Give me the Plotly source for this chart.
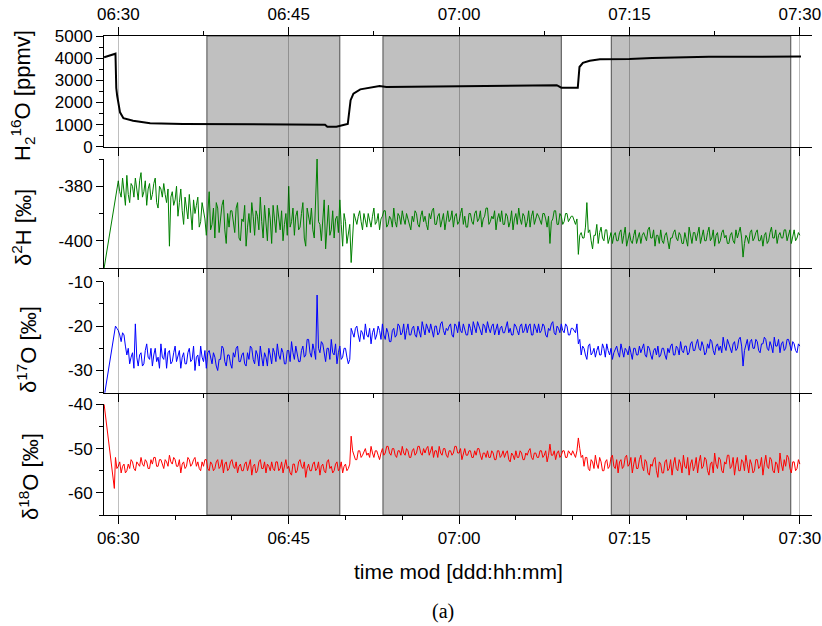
import pandas as pd
import plotly.graph_objects as go

# ---------------- data (minutes after 06:00) ----------------
h2o_min = [28.75, 29.5, 29.75, 29.82, 29.9, 30.15, 30.45, 31.3, 32.8, 35.7, 41.6, 48.2,
           48.4, 49.2, 49.9, 50.2, 50.45, 50.7, 51.3, 52.2, 53.0, 53.6, 58.0, 63.0,
           68.4, 68.6, 69.0, 70.0, 70.45, 70.6, 70.9, 71.5, 72.4, 75.0, 77.0, 82.0, 90.1]
h2o_ppmv = [4040, 4150, 4200, 2650, 2300, 1550, 1290, 1170, 1060, 1025, 1000, 995,
            905, 905, 990, 1025, 2100, 2400, 2590, 2680, 2740, 2700, 2720, 2730,
            2760, 2780, 2665, 2640, 2660, 3600, 3790, 3885, 3950, 3960, 4010, 4065, 4070]

# regular sampling of the isotope records, 06:29:45 ... 07:30:00 (7.5 s steps)
grid_start_min = 29.75
grid_step_min = 0.125

d2h_head_min = [28.75]
d2h_head = [-410]
d2h = [
    -383, -380,
    -378, -382, -384, -377, -381, -387, -376, -383,  # 06:30
    -386, -379, -380, -384, -377, -381, -385, -378,
    -375, -384, -382, -378, -387, -381, -379, -385,
    -383, -379, -377, -386, -388, -380, -381, -384,
    -379, -383, -386, -381, -402, -384, -382, -387,
    -385, -380, -391, -386, -381, -389, -394, -384,  # 06:35
    -388, -392, -383, -389, -396, -385, -390, -387,
    -384, -395, -393, -386, -389, -392, -398, -390,
    -382, -396, -394, -388, -399, -386, -388, -397,
    -391, -387, -385, -396, -401, -390, -395, -389,
    -389, -394, -397, -388, -386, -399, -400, -392,  # 06:40
    -393, -387, -402, -395, -390, -397, -386, -391,
    -398, -389, -391, -396, -384, -393, -399, -387,
    -394, -400, -388, -392, -401, -387, -392, -397,
    -387, -393, -396, -389, -400, -394, -390, -398,
    -380, -395, -393, -388, -398, -391, -389, -396,  # 06:45
    -395, -390, -386, -399, -402, -388, -391, -394,
    -388, -396, -399, -387, -370, -393, -394, -400,
    -390, -385, -403, -394, -387, -398, -396, -389,
    -399, -392, -391, -397, -385, -394, -402, -390,
    -393, -401, -398, -394, -408, -396, -390, -392,  # 06:50
    -394, -391, -389, -393, -396, -390, -392, -395,
    -390, -393, -395, -391, -388, -394, -393, -390,
    -396, -392, -391, -389, -389, -395, -394, -391,
    -392, -395, -388, -393, -395, -390, -391, -394,
    -389, -392, -394, -390, -392, -395, -396, -391,  # 06:55
    -393, -389, -390, -394, -395, -391, -389, -393,
    -391, -394, -396, -390, -392, -389, -388, -394,
    -394, -391, -390, -395, -393, -390, -396, -392,
    -389, -393, -392, -389, -395, -391, -390, -394,
    -393, -390, -388, -394, -391, -395, -395, -390,  # 07:00
    -390, -393, -394, -390, -389, -393, -392, -389,
    -395, -392, -391, -388, -388, -394, -393, -391,
    -392, -389, -396, -392, -390, -393, -389, -394,
    -394, -390, -391, -395, -393, -389, -396, -392,
    -390, -394, -388, -392, -394, -390, -391, -395,  # 07:05
    -393, -389, -395, -391, -389, -394, -392, -390,
    -391, -393, -394, -390, -390, -392, -395, -391,
    -401, -393, -392, -389, -389, -394, -394, -390,
    -391, -394, -393, -390, -390, -393, -392, -391,
    -391, -393, -394, -392, -405, -398, -397, -399,  # 07:10
    -399, -395, -386, -397, -396, -400, -403, -398,
    -398, -394, -401, -397, -395, -399, -400, -396,
    -396, -401, -399, -397, -401, -398, -397, -400,
    -400, -397, -396, -401, -398, -395, -402, -399,
    -397, -400, -401, -398, -396, -401, -399, -397,  # 07:15
    -401, -398, -397, -399, -400, -396, -395, -399,
    -399, -396, -402, -398, -398, -401, -396, -400,
    -401, -398, -397, -400, -403, -399, -399, -397,
    -396, -399, -400, -397, -398, -401, -401, -397,
    -399, -402, -395, -398, -401, -397, -397, -400,  # 07:20
    -398, -395, -401, -399, -396, -400, -400, -397,
    -395, -400, -399, -396, -402, -398, -397, -401,
    -400, -397, -396, -399, -398, -401, -401, -398,
    -397, -400, -401, -396, -399, -397, -395, -399,
    -406, -401, -398, -399, -401, -397, -396, -400,  # 07:25
    -399, -397, -396, -400, -400, -398, -402, -398,
    -397, -401, -400, -397, -395, -399, -399, -396,
    -401, -398, -397, -399, -399, -396, -396, -400,
    -398, -396, -401, -398, -396, -400, -399, -397,
    -398,  # 07:30
]

d17o_head_min = [28.75]
d17o_head = [-36]
d17o = [
    -20, -20.5,
    -21, -22, -23.5, -21.5, -22, -24.5, -26.5, -25,  # 06:30
    -28.5, -27, -26, -29.5, -19.5, -27, -29, -26.5,
    -26, -29, -28.5, -25.5, -24, -27, -27.5, -25,
    -29, -26.5, -25, -28, -27, -29.5, -24, -27,
    -27.5, -25, -29.5, -26, -25.5, -28.5, -28, -26,
    -24.5, -28, -27, -25.5, -29.5, -27, -26, -28.5,  # 06:35
    -28.5, -26, -25, -28, -27.5, -24.5, -30, -27,
    -26.5, -29, -24.5, -27, -28, -25.5, -29.5, -26,
    -25.5, -27.5, -28.5, -26, -27, -29, -30, -27.5,
    -27.5, -24.5, -25, -28, -29, -26.5, -26.5, -28.5,
    -29.5, -26, -27, -25, -24.5, -28, -28, -26.5,  # 06:40
    -26, -28.5, -29, -26, -27.5, -24.5, -25, -27.5,
    -28.5, -25.5, -26.5, -29, -24.5, -27, -29, -26,
    -27, -29, -25, -26.5, -28.5, -25, -26, -28,
    -24, -26.5, -27.5, -25, -26, -28.5, -28.5, -25.5,
    -25.5, -28, -23.5, -26, -27.5, -24.5, -26, -28,  # 06:45
    -28, -25.5, -24.5, -27, -26.5, -23, -23, -26,
    -27, -24, -25.5, -27.5, -13, -25, -26, -23.5,
    -24, -26.5, -28, -25, -25, -27.5, -23, -26,
    -26.5, -24, -28.5, -26, -24.5, -27.5, -27, -25,
    -25, -27, -28.5, -27.5, -20.5, -21.5, -22.5, -20.5,  # 06:50
    -20, -22, -23.5, -21, -21.5, -23, -19.5, -22,
    -22.5, -20.5, -24, -21.5, -20.5, -23, -22, -20,
    -21, -23, -19.5, -22, -23, -20.5, -21.5, -23.5,
    -23.5, -21, -20.5, -22.5, -22, -19.5, -20, -22,
    -21.5, -19.5, -23, -21, -19.5, -22, -22, -20.5,  # 06:55
    -20, -22, -22.5, -20, -21, -22.5, -19, -21,
    -22, -19.5, -20.5, -21.5, -19.5, -21, -22.5, -20,
    -20, -22, -21.5, -19.5, -19, -21, -22, -20.5,
    -21, -20, -19.5, -22, -22.5, -19.5, -20, -21.5,
    -19, -21, -21.5, -19.5, -20.5, -22, -22, -19.5,  # 07:00
    -20.5, -22, -19, -20.5, -21.5, -19, -20, -21.5,
    -22, -19.5, -20, -21.5, -19, -20.5, -21.5, -20,
    -19.5, -22, -21, -19.5, -22, -20.5, -20, -21.5,
    -21.5, -20, -19, -21.5, -20.5, -22, -22, -19.5,
    -20, -21, -22, -20, -19.5, -21.5, -21, -19.5,  # 07:05
    -21.5, -20, -19.5, -22, -22, -19.5, -20.5, -21.5,
    -19.5, -21.5, -21, -19.5, -20, -22, -22.5, -20.5,
    -21, -19.5, -19, -21.5, -22, -20, -20.5, -21.5,
    -19.5, -21, -21.5, -19.5, -20, -22, -22, -20.5,
    -20.5, -21, -21.5, -19.5, -24, -23, -26.5, -24.5,  # 07:10
    -25, -26.5, -27.5, -24.5, -24, -26.5, -26, -25,
    -27, -25.5, -24.5, -26.5, -26.5, -24, -25, -27,
    -24, -25.5, -26.5, -25, -27.5, -26, -25, -24.5,
    -26, -27, -24, -25.5, -27, -25, -25.5, -26.5,
    -24.5, -26, -27.5, -25, -25, -26.5, -26.5, -24.5,  # 07:15
    -26, -25, -24, -26.5, -27, -24.5, -25, -26.5,
    -27.5, -25.5, -25, -26.5, -24.5, -27, -26.5, -25,
    -25, -26.5, -27.5, -25, -26, -24.5, -24, -26.5,
    -26.5, -24.5, -25, -26.5, -23.5, -25.5, -26, -24.5,
    -24.5, -26.5, -26, -24, -23.5, -25.5, -25.5, -24,  # 07:20
    -23, -25, -25.5, -23.5, -24.5, -26.5, -26, -24,
    -25, -23, -23.5, -25.5, -26.5, -24.5, -24, -25.5,
    -24.5, -26, -22.5, -24.5, -25.5, -23, -24, -25.5,
    -26, -24, -23.5, -25.5, -25, -23, -22.5, -24.5,
    -29, -25.5, -24, -23, -25.5, -23.5, -23, -25,  # 07:25
    -25, -23, -23.5, -25.5, -26, -24, -24, -22.5,
    -23, -25, -25.5, -23.5, -24.5, -26, -22.5, -24.5,
    -24.5, -23, -26, -24, -23.5, -25.5, -25, -23,
    -23, -24.5, -25.5, -23.5, -24, -25.5, -26, -24,
    -24.5,  # 07:30
]

d18o_head_min = [28.75, 29.65]
d18o_head = [-40, -59]
d18o = [
    -52, -54.5,
    -54, -53, -55.5, -54, -53.5, -55.5, -55, -53.5,  # 06:30
    -54.5, -52.5, -53, -54.5, -55, -53, -53.5, -54,
    -52, -53.5, -54, -52.5, -53, -54.5, -54.5, -52.5,
    -53.5, -52, -52, -54, -54, -52.5, -52.5, -53.5,
    -54.5, -52.5, -53, -54, -51.5, -53, -53.5, -52,
    -52.5, -54, -54, -52.5, -55.5, -53.5, -53, -54.5,  # 06:35
    -54, -52, -52.5, -54, -53.5, -52.5, -52, -54,
    -53, -54.5, -55, -53, -54, -52.5, -52.5, -54.5,
    -55, -53, -53.5, -55, -54.5, -53, -52.5, -54.5,
    -54, -52.5, -55.5, -53.5, -53, -55, -54.5, -53,
    -52.5, -54, -54.5, -53, -55.5, -54, -53.5, -55,  # 06:40
    -55, -53.5, -53, -55, -54, -52.5, -56, -54,
    -53.5, -55.5, -55, -53, -52.5, -54.5, -54.5, -53,
    -55.5, -53.5, -54, -55, -53, -54.5, -55, -53,
    -53, -55, -54.5, -53, -55.5, -54, -52.5, -54.5,
    -54, -55.5, -56, -53.5, -53.5, -55.5, -55, -53,  # 06:45
    -52.5, -54, -54.5, -53, -56.5, -54.5, -53.5, -55,
    -55, -53.5, -53, -55, -54.5, -53, -56, -54,
    -53.5, -55, -55.5, -53, -52.5, -54.5, -54, -55.5,
    -55, -53.5, -53, -55, -54.5, -53, -55.5, -54,
    -53.5, -55, -54.5, -53.5, -47.2, -50.5, -51.5, -52.5,  # 06:50
    -52.5, -50.5, -50.5, -52, -51.5, -50.5, -50, -51.5,
    -51, -52, -49.5, -51, -52, -50.5, -50.5, -51.5,
    -52.5, -51, -50, -51.5, -51, -49.5, -49.5, -51,
    -51.5, -50, -50, -51.5, -52, -50.5, -50.5, -51.5,
    -49.5, -51, -51.5, -50, -50.5, -52, -52, -50.5,  # 06:55
    -50, -51.5, -51, -49.5, -49.5, -51, -51.5, -50,
    -51, -50, -49.5, -51.5, -50.5, -49.5, -52, -50.5,
    -50.5, -52, -49.5, -51, -51.5, -50, -50, -51.5,
    -52, -50.5, -50.5, -51.5, -51, -49.5, -49.5, -51,
    -51, -50, -52.5, -51, -50, -51.5, -51.5, -50.5,  # 07:00
    -50.5, -52, -52, -50.5, -51.5, -50, -50, -51.5,
    -52.5, -51, -51, -52, -50.5, -52, -52, -50.5,
    -51, -52.5, -52.5, -50.5, -50.5, -52, -51.5, -50.5,
    -52, -51, -50.5, -52.5, -53, -51, -51.5, -52.5,
    -50.5, -52, -52, -50.5, -51, -52.5, -52.5, -51,  # 07:05
    -51.5, -50.5, -50, -52, -52.5, -51, -51, -52,
    -52, -50.5, -50.5, -52, -51.5, -50.5, -53, -51.5,
    -49, -51.5, -51.5, -50.5, -52.5, -51, -50.5, -52,
    -51.5, -50.5, -50.5, -52, -52, -50.5, -51, -51.5,
    -50.5, -51.5, -52, -50.5, -47.6, -50, -52, -51.5,  # 07:10
    -54, -52, -52, -54.5, -55, -52.5, -53, -54.5,
    -51.5, -53.5, -54.5, -52, -53, -55, -55, -53,
    -52.5, -54.5, -54, -52, -51.5, -54, -54.5, -52.5,
    -55.5, -53, -52.5, -54.5, -54, -52, -51.5, -54,
    -53.5, -52, -55.5, -53.5, -52, -54.5, -54.5, -52.5,  # 07:15
    -51.5, -54, -55, -52.5, -53, -55.5, -56, -53.5,
    -54, -52.5, -52, -55, -56.5, -53, -53.5, -55.5,
    -55.5, -53, -52.5, -55, -54.5, -52.5, -56, -53.5,
    -52, -54.5, -55, -52.5, -53.5, -55.5, -51.5, -54,
    -54.5, -52, -56, -53.5, -52.5, -55, -54, -52,  # 07:20
    -55.5, -53, -51.5, -54.5, -54, -52, -52.5, -55,
    -56, -53.5, -53, -55.5, -51, -53.5, -54.5, -52,
    -52.5, -55, -55.5, -53, -53.5, -51.5, -51.5, -54.5,
    -54, -52, -56, -53.5, -52, -55, -55, -52.5,
    -53, -55, -51.5, -53.5, -55.5, -52.5, -53.5, -55.5,  # 07:25
    -55, -52.5, -52.5, -54.5, -54, -52, -56, -53.5,
    -51.5, -54, -54.5, -52, -52.5, -55, -55.5, -53,
    -53.5, -55.5, -51, -53.5, -55, -52.5, -54, -51.5,
    -52, -54.5, -55.5, -53, -53, -55, -54.5, -52.5,
    -53.5,  # 07:30
]

# shaded measurement periods (minutes after 06:00)
shade_start_min = [37.8, 53.3, 73.4]
shade_end_min = [49.5, 69.0, 89.2]

x_range_min = [28.74, 91.07]
x_tick_format = "%H:%M"

y1_ticks = [0, 1000, 2000, 3000, 4000, 5000]
y2_ticks = [-400, -380]
y3_ticks = [-30, -20, -10]
y4_ticks = [-60, -50, -40]

# ---------------- helpers ----------------
BASE = pd.Timestamp("2000-01-01 06:00:00")


def to_time(minutes):
    return list(BASE + pd.to_timedelta(minutes, unit="min"))


def hy(vals):
    return [str(v) for v in vals]  # plain hyphen-minus as in the original


grid_min = [grid_start_min + grid_step_min * i for i in range(len(d2h))]

FONT = "Liberation Sans, Arial, sans-serif"
TICKFONT = dict(family=FONT, size=17, color="black")

fig = go.Figure()
fig.add_trace(go.Scatter(x=to_time(h2o_min), y=h2o_ppmv, mode="lines",
                         line=dict(color="black", width=2), xaxis="x", yaxis="y"))
fig.add_trace(go.Scatter(x=to_time(d2h_head_min + grid_min[:len(d2h)]), y=d2h_head + d2h, mode="lines",
                         line=dict(color="#008000", width=1), xaxis="x2", yaxis="y2"))
fig.add_trace(go.Scatter(x=to_time(d17o_head_min + grid_min[:len(d17o)]), y=d17o_head + d17o, mode="lines",
                         line=dict(color="#0000ff", width=1), xaxis="x3", yaxis="y3"))
fig.add_trace(go.Scatter(x=to_time(d18o_head_min + grid_min[:len(d18o)]), y=d18o_head + d18o, mode="lines",
                         line=dict(color="#ff0000", width=1), xaxis="x4", yaxis="y4"))
# full-height grid carrier
fig.add_trace(go.Scatter(x=[], y=[], xaxis="x5", yaxis="y5", hoverinfo="skip"))

xr = [str(t) for t in to_time(x_range_min)]
tick0 = str(to_time([30])[0])

xcommon = dict(type="date", range=xr, dtick=900000, tick0=tick0, tickformat=x_tick_format,
               showgrid=False, zeroline=False, showline=True, linecolor="black", linewidth=1,
               ticks="outside", ticklen=8, tickwidth=1, tickcolor="black", tickfont=TICKFONT,
               automargin=False,
               minor=dict(dtick=450000, ticklen=4, ticks="outside", tickcolor="black", showgrid=False))
ycommon = dict(showgrid=False, zeroline=False, showline=True, linecolor="black", linewidth=1,
               ticks="outside", ticklen=7, tickwidth=1, tickcolor="black", tickfont=TICKFONT,
               automargin=False, tickmode="array")

# plot area in pixels: x 104..812, y 36..515
H = 515 - 36


def fy(px):
    return (515 - px) / H


fig.update_layout(
    width=822, height=626,
    margin=dict(l=104, r=10, t=36, b=111, autoexpand=False),
    paper_bgcolor="white", plot_bgcolor="rgba(0,0,0,0)",
    showlegend=False,
    xaxis=dict(xcommon, anchor="y", side="top", mirror="ticks", showticklabels=True),
    xaxis2=dict(xcommon, anchor="y2", matches="x", showticklabels=False),
    xaxis3=dict(xcommon, anchor="y3", matches="x", showticklabels=False),
    xaxis4=dict(xcommon, anchor="y4", matches="x", showticklabels=True,
                minor=dict(dtick=300000, ticklen=3.5, ticks="outside", tickcolor="black", showgrid=False)),
    xaxis5=dict(type="date", anchor="y5", matches="x", showgrid=True, gridcolor="rgba(0,0,0,0.25)",
                gridwidth=1, dtick=900000, tick0=tick0, showticklabels=False, ticks="",
                showline=False, zeroline=False, automargin=False),
    yaxis=dict(ycommon, domain=[fy(146.7), 1], anchor="x", range=[0, 5000],
               tickvals=y1_ticks, ticktext=hy(y1_ticks),
               minor=dict(dtick=500, tick0=0, ticklen=4, ticks="outside", tickcolor="black")),
    yaxis2=dict(ycommon, domain=[fy(268), fy(159)], anchor="x2", range=[-410, -370],
                tickvals=y2_ticks, ticktext=hy(y2_ticks),
                minor=dict(dtick=10, tick0=0, ticklen=4, ticks="outside", tickcolor="black")),
    yaxis3=dict(ycommon, domain=[fy(392.7), fy(281.7)], anchor="x3", range=[-35, -10],
                tickvals=y3_ticks, ticktext=hy(y3_ticks),
                minor=dict(dtick=5, tick0=0, ticklen=4, ticks="outside", tickcolor="black")),
    yaxis4=dict(ycommon, domain=[0, fy(404.3)], anchor="x4", range=[-65, -40],
                tickvals=y4_ticks, ticktext=hy(y4_ticks),
                minor=dict(dtick=5, tick0=0, ticklen=4, ticks="outside", tickcolor="black")),
    yaxis5=dict(domain=[0, 1], anchor="x5", range=[0, 1], visible=False),
)

for s, e in zip(shade_start_min, shade_end_min):
    fig.add_shape(type="rect", xref="x", yref="paper", x0=to_time([s])[0], x1=to_time([e])[0],
                  y0=0, y1=1, fillcolor="#c0c0c0", line=dict(color="#4d4d4d", width=1), layer="below")


def fx(px):
    return (px - 104) / 708


titles = [
    ("H<sub>2</sub><sup>16</sup>O [ppmv]", 22, 96),
    ("δ<sup>2</sup>H [‰]", 22, 228),
    ("δ<sup>17</sup>O [‰]", 27, 350),
    ("δ<sup>18</sup>O [‰]", 29, 477),
]
for txt, xp, yp in titles:
    fig.add_annotation(text=txt, xref="paper", yref="paper", x=fx(xp), y=fy(yp),
                       xanchor="center", yanchor="middle", textangle=-90, showarrow=False,
                       font=dict(family=FONT, size=22, color="black"))

fig.add_annotation(text="time mod [ddd:hh:mm]", xref="paper", yref="paper", x=fx(458), y=fy(571),
                   xanchor="center", yanchor="middle", showarrow=False,
                   font=dict(family=FONT, size=21, color="black"))
fig.add_annotation(text="(a)", xref="paper", yref="paper", x=fx(443), y=fy(611),
                   xanchor="center", yanchor="middle", showarrow=False,
                   font=dict(family="Liberation Serif, DejaVu Serif, serif", size=20, color="black"))

fig.write_html("out.html", config={"displayModeBar": False},
               post_script="document.body.style.margin='0px';")
